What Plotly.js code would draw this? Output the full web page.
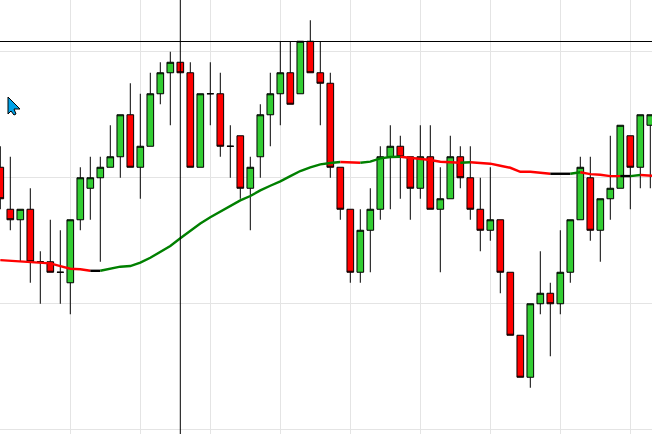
<!DOCTYPE html>
<html>
<head>
<meta charset="utf-8">
<script src="https://cdn.plot.ly/plotly-3.0.1.min.js"></script>
<style>html,body{margin:0;padding:0;background:#fff;overflow:hidden}#c{width:652px;height:434px}</style>
</head>
<body>
<div id="c"></div>
<script>
// Prices expressed in ticks relative to the lower grid line.
var opens  = [13,9,8,9,4,4,3,2,8,11,12,13,14,18,13,15,20,22,23,22,13,20,20,15,16,11,14,18,20,22,20,25,22,21,13,9,3,7,9,14,15,14,11,14,9,10,14,12,9,7,8,3,-3,-7,0,1,0,3,8,12,7,10,11,16,13,17];
var closes = [10,8,9,4,4,3,3,8,12,12,13,14,18,13,15,20,22,23,22,13,20,20,15,15,11,13,18,20,22,19,25,22,21,13,9,3,7,9,14,15,14,11,14,9,10,14,12,9,7,8,3,-3,-7,0,1,0,3,8,13,7,10,11,17,13,18,18];
var highs  = [15,14,9,11,5,8,7,8,13,14,14,17,18,21,20,22,23,24,23,23,20,23,22,17,16,14,19,22,25,25,25,27,25,22,13,9,9,11,15,17,16,14,17,17,13,16,15,15,12,13,8,3,-3,0,5,2,7,8,14,14,10,16,17,16,18,18];
var lows   = [9,7,4,2,0,3,0,-1,7,8,4,13,12,13,10,15,19,17,22,13,13,17,14,12,10,7,12,15,17,19,20,22,17,12,8,2,2,3,8,9,10,8,10,9,3,10,11,8,5,6,1,-3,-7,-8,-1,-5,-1,2,8,6,4,8,11,9,11,11];
var ma = [4.16,4.10,4.00,3.94,3.91,3.85,3.59,3.34,3.29,3.14,3.14,3.37,3.53,3.59,3.91,4.38,4.93,5.50,6.24,6.95,7.64,8.24,8.79,9.34,9.84,10.26,10.80,11.24,11.66,12.16,12.64,12.99,13.28,13.40,13.50,13.43,13.43,13.53,13.85,13.97,14.00,13.91,13.85,13.69,13.53,13.47,13.43,13.47,13.43,13.34,13.14,12.95,12.57,12.57,12.48,12.38,12.38,12.38,12.52,12.35,12.29,12.16,12.16,12.16,12.26,12.16,12.14];
var maRunColors  = ['#ff0000','#000000','#008000','#ff0000','#008000','#ff0000','#008000','#ff0000','#000000','#008000','#ff0000','#000000','#008000','#ff0000'];
var maRunLengths = [9,1,24,2,4,6,1,8,2,1,4,1,1,2];
var crossIndex = 18, crossPrice = 24.976;

var idx = opens.map(function(_, i){ return i; });
var traces = [{
  type: 'candlestick', x: idx, open: opens, high: highs, low: lows, close: closes,
  increasing: {line: {color: '#000000', width: 1}, fillcolor: '#32cd32'},
  decreasing: {line: {color: '#000000', width: 1}, fillcolor: '#ff0000'},
  whiskerwidth: 0, hoverinfo: 'skip', showlegend: false
}];
var start = 0;
maRunLengths.forEach(function(len, r){
  var xs = [], ys = [];
  for (var k = start; k <= start + len; k++) { xs.push(k); ys.push(ma[k]); }
  traces.push({type: 'scatter', mode: 'lines', x: xs, y: ys,
    line: {color: maRunColors[r], width: 2.4},
    hoverinfo: 'skip', showlegend: false});
  start += len;
});

var layout = {
  width: 652, height: 434,
  margin: {l: 0, r: 0, t: 0, b: 0, pad: 0},
  paper_bgcolor: '#ffffff', plot_bgcolor: '#ffffff',
  showlegend: false, boxgap: 0.05,
  xaxis: {range: [-0.03, 65.17], tick0: 0, dtick: 7, showgrid: true, gridcolor: '#e4e4e4', gridwidth: 1,
          zeroline: false, showticklabels: false, ticks: '', showline: false, rangeslider: {visible: false}, fixedrange: true},
  yaxis: {range: [-12.404, 28.929], tick0: 0, dtick: 12, showgrid: true, gridcolor: '#e4e4e4', gridwidth: 1,
          zeroline: false, showticklabels: false, ticks: '', showline: false, fixedrange: true},
  shapes: [
    {type: 'line', xref: 'x', yref: 'paper', x0: crossIndex, x1: crossIndex, y0: 0, y1: 1, line: {color: '#000000', width: 1}},
    {type: 'line', xref: 'paper', yref: 'y', x0: 0, x1: 1, y0: crossPrice, y1: crossPrice, line: {color: '#000000', width: 1}},
    {type: 'path', xref: 'paper', yref: 'paper', xsizemode: 'pixel', ysizemode: 'pixel', xanchor: 0, yanchor: 1,
     path: 'M8,-97 L8,-114 L11,-111 L14,-115 L16,-114 L14,-109 L20,-109 Z',
     fillcolor: '#00a2e8', line: {color: '#000000', width: 1}}
  ]
};
Plotly.newPlot('c', traces, layout, {staticPlot: true, displayModeBar: false});
</script>
</body>
</html>
